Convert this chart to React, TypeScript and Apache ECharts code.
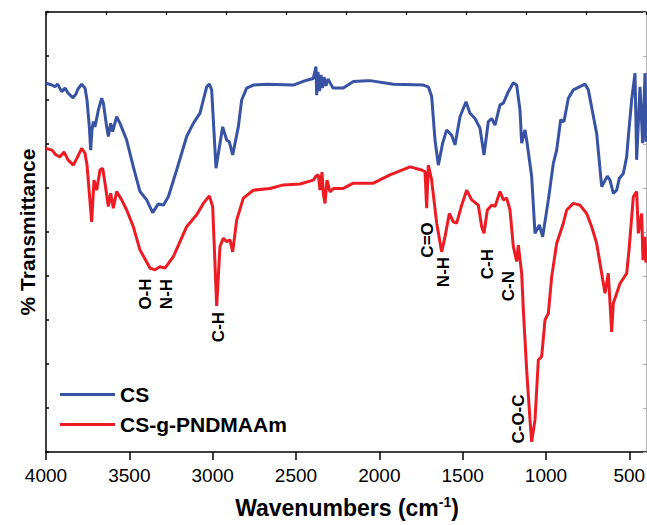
import React, { useEffect, useRef } from "react";
import * as echarts from "echarts";

const xTickValues = [4000, 3500, 3000, 2500, 2000, 1500, 1000, 500];
const seriesNames = ["CS", "CS-g-PNDMAAm"];
const seriesColors = ["#3953A4", "#ED1C24"];

// [wavenumber (cm-1), % transmittance (arbitrary offset units)]
const csData: [number, number][] = [
  [4000, 83.8], [3964, 83.4], [3946, 83.0], [3930, 83.6], [3906, 81.9], [3886, 82.7], [3868, 81.6],
  [3838, 80.5], [3820, 81.4], [3808, 82.5], [3786, 83.6], [3766, 82.7], [3754, 80.0], [3740, 73.9],
  [3732, 68.6], [3724, 73.2], [3716, 75.1], [3706, 73.9], [3686, 77.7], [3666, 80.4], [3656, 79.3],
  [3636, 73.9], [3626, 71.7], [3612, 74.7], [3600, 72.8], [3576, 76.2], [3556, 74.7], [3516, 70.9],
  [3476, 64.8], [3436, 59.2], [3396, 57.3], [3360, 54.4], [3326, 56.4], [3296, 56.1], [3266, 58.0],
  [3216, 64.1], [3156, 71.7], [3116, 74.7], [3076, 77.0], [3036, 83.0], [3020, 83.6], [3006, 82.3],
  [2980, 64.5], [2940, 73.9], [2916, 70.9], [2900, 70.5], [2880, 67.5], [2846, 73.9], [2826, 80.0],
  [2796, 82.7], [2756, 83.4], [2676, 83.6], [2516, 83.4], [2436, 84.5], [2396, 84.9], [2380, 87.6],
  [2376, 81.1], [2368, 86.4], [2359, 82.0], [2350, 85.7], [2341, 82.7], [2332, 85.2], [2320, 83.2],
  [2308, 84.8], [2278, 82.7], [2216, 82.7], [2156, 84.2], [2076, 84.4], [2056, 84.4], [1916, 83.6],
  [1736, 83.4], [1706, 83.0], [1686, 80.8], [1666, 70.9], [1646, 65.2], [1620, 70.2], [1596, 73.2],
  [1566, 72.0], [1546, 69.8], [1516, 76.2], [1480, 79.6], [1456, 77.0], [1426, 75.8], [1396, 73.6],
  [1372, 67.5], [1346, 75.1], [1326, 75.8], [1306, 74.3], [1276, 78.9], [1256, 79.3], [1226, 81.9],
  [1196, 83.9], [1176, 83.4], [1156, 77.7], [1146, 70.2], [1126, 73.2], [1116, 70.9], [1086, 62.6],
  [1066, 49.7], [1040, 51.6], [1020, 48.9], [986, 57.3], [956, 65.6], [936, 68.6], [912, 75.5],
  [892, 75.1], [866, 80.4], [836, 82.3], [766, 83.6], [746, 82.3], [696, 72.4], [666, 60.3],
  [632, 62.7], [616, 61.8], [596, 58.8], [576, 59.5], [560, 62.2], [536, 63.3], [516, 67.1],
  [506, 71.7], [486, 80.0], [466, 86.1], [456, 66.4], [436, 83.0], [420, 70.2], [406, 86.1], [400, 70.5],
];

const graftData: [number, number][] = [
  [4000, 69.0], [3964, 68.6], [3940, 67.5], [3916, 67.1], [3892, 68.2], [3868, 66.4], [3836, 65.2],
  [3814, 66.8], [3786, 69.0], [3766, 67.9], [3754, 65.2], [3740, 58.8], [3726, 52.3], [3712, 61.8],
  [3696, 59.5], [3676, 64.1], [3660, 64.5], [3646, 61.1], [3626, 55.8], [3612, 58.8], [3596, 55.4],
  [3576, 59.2], [3546, 57.3], [3516, 55.0], [3476, 51.2], [3436, 45.9], [3376, 41.8], [3346, 41.4],
  [3316, 42.1], [3286, 41.8], [3236, 44.4], [3156, 51.2], [3096, 53.9], [3056, 56.5], [3020, 58.2],
  [3000, 55.8], [2976, 33.2], [2956, 46.7], [2936, 48.6], [2916, 47.8], [2896, 48.2], [2880, 45.5],
  [2856, 52.7], [2816, 57.7], [2756, 59.5], [2656, 59.9], [2576, 60.7], [2476, 60.9], [2396, 61.8],
  [2380, 62.7], [2366, 63.0], [2356, 59.5], [2344, 63.6], [2335, 58.4], [2326, 56.5], [2314, 61.8],
  [2296, 59.1], [2276, 59.9], [2216, 59.9], [2156, 61.1], [2076, 61.1], [2036, 61.1], [1936, 63.0],
  [1816, 64.8], [1746, 64.1], [1726, 63.7], [1716, 55.4], [1706, 65.2], [1686, 61.8], [1656, 52.0],
  [1626, 45.5], [1606, 48.9], [1580, 54.2], [1556, 52.3], [1536, 52.0], [1506, 56.1], [1476, 59.5],
  [1446, 57.3], [1406, 56.1], [1386, 51.2], [1372, 49.7], [1352, 55.0], [1326, 56.1], [1306, 55.8],
  [1276, 59.2], [1256, 57.3], [1236, 57.7], [1216, 55.0], [1196, 46.7], [1176, 43.3], [1166, 47.0],
  [1146, 40.6], [1136, 32.3], [1116, 18.6], [1096, 7.3], [1086, 2.3], [1066, 7.3], [1046, 20.9],
  [1026, 21.7], [1006, 30.0], [986, 31.5], [966, 39.8], [936, 47.4], [896, 52.0], [876, 55.0],
  [836, 56.5], [796, 56.1], [756, 54.2], [726, 51.2], [696, 47.4], [666, 40.6], [646, 36.1],
  [626, 40.6], [606, 27.3], [596, 33.8], [556, 38.3], [516, 40.6], [502, 45.9], [476, 58.0],
  [456, 59.2], [446, 49.7], [426, 54.2], [418, 43.6], [406, 48.9], [400, 43.0],
];

// peak assignments: label text, anchored at [wavenumber, transmittance]
const peakTexts = ["O-H", "N-H", "C-H", "C=O", "N-H", "C-H", "C-N", "C-O-C"];
const peakWavenumbers = [3406, 3280, 2968, 1714, 1618, 1354, 1228, 1168];
const peakLevels = [35.9, 35.9, 28.4, 48.2, 40.9, 42.7, 37.7, 7.5];

const FONT = "'Liberation Sans', Arial, Helvetica, sans-serif";

export default function App() {
  const ref = useRef<HTMLDivElement>(null);
  useEffect(() => {
    if (!ref.current) return;
    const chart = echarts.init(ref.current, undefined, { renderer: "svg" });
    const option: any = {
      animation: false,
      backgroundColor: "#ffffff",
      textStyle: { fontFamily: FONT },
      grid: { left: 46, right: 1, top: 12, bottom: 73, containLabel: false, outerBoundsMode: "none" },
      legend: {
        left: 55,
        top: 379,
        orient: "vertical",
        icon: "rect",
        itemWidth: 55,
        itemHeight: 3,
        itemGap: 9,
        data: seriesNames,
        textStyle: { fontFamily: FONT, fontSize: 21, fontWeight: "bold", color: "#000", lineHeight: 21 },
      },
      xAxis: [
        {
          type: "value",
          min: 400,
          max: 4000,
          inverse: true,
          position: "bottom",
          axisLine: { show: true, onZero: false, lineStyle: { color: "#000", width: 1.5 } },
          axisTick: {
            show: true,
            inside: false,
            length: 8,
            customValues: xTickValues,
            lineStyle: { color: "#000", width: 1.5 },
          },
          axisLabel: {
            show: true,
            customValues: xTickValues,
            formatter: (v: number) => String(v),
            margin: 14,
            fontFamily: FONT,
            fontSize: 19,
            color: "#000",
          },
          splitLine: { show: false },
        },
        {
          type: "value",
          min: 0,
          max: 10,
          interval: 1,
          position: "top",
          axisLine: { show: true, onZero: false, lineStyle: { color: "#000", width: 1.5 } },
          axisTick: { show: true, inside: true, length: 3, lineStyle: { color: "#000", width: 1.2 } },
          axisLabel: { show: false },
          splitLine: { show: false },
        },
      ],
      yAxis: [
        {
          type: "value",
          min: 0,
          max: 100,
          interval: 10,
          position: "left",
          axisLine: { show: true, onZero: false, lineStyle: { color: "#000", width: 1.5 } },
          axisTick: { show: true, inside: true, length: 3, lineStyle: { color: "#000", width: 1.5 } },
          axisLabel: { show: false },
          splitLine: { show: false },
        },
        {
          type: "value",
          min: 0,
          max: 100,
          interval: 10,
          position: "right",
          axisLine: { show: true, onZero: false, lineStyle: { color: "#b0b0b0", width: 1 } },
          axisTick: { show: true, inside: true, length: 3, lineStyle: { color: "#b0b0b0", width: 1 } },
          axisLabel: { show: false },
          splitLine: { show: false },
        },
      ],
      series: [
        {
          name: seriesNames[0],
          type: "line",
          data: csData,
          showSymbol: false,
          symbol: "none",
          color: seriesColors[0],
          lineStyle: { color: seriesColors[0], width: 3 },
          z: 3,
        },
        {
          name: seriesNames[1],
          type: "line",
          data: graftData,
          showSymbol: false,
          symbol: "none",
          color: seriesColors[1],
          lineStyle: { color: seriesColors[1], width: 3 },
          z: 4,
        },
      ],
    };
    chart.setOption(option);

    const graphics: any[] = peakTexts.map((t, i) => {
      const p = chart.convertToPixel({ xAxisIndex: 0, yAxisIndex: 0 }, [peakWavenumbers[i], peakLevels[i]]) as number[];
      return {
        type: "text",
        x: p[0],
        y: p[1],
        rotation: Math.PI / 2,
        z: 10,
        style: {
          text: t,
          fontFamily: FONT,
          fontSize: 17,
          fontWeight: "bold",
          fill: "#000",
          align: "center",
          verticalAlign: "middle",
        },
      };
    });
    graphics.push({
      type: "text",
      x: 27,
      y: 232,
      rotation: Math.PI / 2,
      style: {
        text: "% Transmittance",
        fontFamily: FONT,
        fontSize: 21,
        fontWeight: "bold",
        fill: "#000",
        align: "center",
        verticalAlign: "middle",
      },
    });
    graphics.push({
      type: "text",
      x: 347,
      y: 508,
      style: {
        text: "{a|Wavenumbers (cm}{b|-1}{a|)}",
        rich: {
          a: { fontFamily: FONT, fontSize: 23, fontWeight: "bold", fill: "#000", color: "#000" },
          b: {
            fontFamily: FONT,
            fontSize: 14,
            fontWeight: "bold",
            fill: "#000",
            color: "#000",
            verticalAlign: "top",
            padding: [0, 0, 12, 0],
          },
        },
        align: "center",
        verticalAlign: "middle",
      },
    });
    chart.setOption({ graphic: graphics });

    return () => chart.dispose();
  }, []);
  return (
    <div
      ref={ref}
      style={{ position: "fixed", left: 0, top: 0, width: 647, height: 525, background: "#fff" }}
    />
  );
}
